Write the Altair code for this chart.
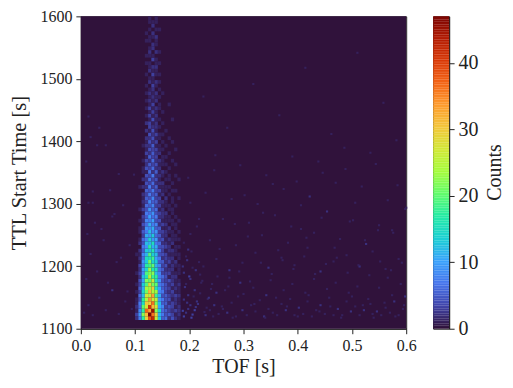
import altair as alt
import pandas as pd

tof_edges = [0.100,0.106,0.112,0.118,0.124,0.130,0.136,0.142,0.148,0.154,0.160,0.166,0.172,0.178,0.184]
ttl_start = 1114
ttl_step = 6
plume_rows = [
[2,7,17,29,38,42,26,13,5,6,2,4,2,1],
[3,9,22,31,47,36,29,11,7,4,5,3,1,2],
[1,8,17,37,33,45,22,14,6,5,3,2,3,2],
[2,6,20,27,41,31,27,10,8,3,4,3,1,2],
[1,7,15,30,29,36,21,12,5,5,2,3,2,1],
[1,4,17,24,34,27,25,9,7,4,4,1,2,1],
[0,6,12,27,25,33,18,11,4,5,3,2,3,2],
[1,3,14,21,31,24,23,8,7,3,2,3,1,1],
[0,5,11,24,23,29,16,10,5,4,3,1,2,1],
[1,3,13,19,28,21,20,7,6,4,2,3,1,2],
[0,4,10,22,20,26,15,9,4,3,4,2,1,1],
[0,2,12,16,25,18,17,7,6,4,1,2,2,0],
[1,3,8,19,21,22,12,8,3,3,3,1,1,1],
[0,2,10,14,23,16,15,6,5,2,2,2,0,1],
[0,3,7,17,18,20,11,8,3,4,1,2,1,1],
[0,1,9,13,21,14,13,5,5,2,3,1,2,0],
[0,2,6,15,15,18,10,7,2,3,2,2,0,1],
[1,1,8,11,19,13,12,4,4,3,1,1,1,1],
[0,2,5,13,12,16,9,6,3,1,2,2,1,0],
[0,0,7,9,17,11,11,4,4,3,2,0,1,1],
[0,2,4,12,11,15,7,6,2,2,1,2,0,0],
[0,1,6,8,14,9,10,3,4,1,2,1,1,1],
[0,0,3,11,9,13,6,5,2,2,0,1,1,0],
[0,1,5,7,12,8,9,3,3,2,1,1,0,1],
[0,1,2,9,8,11,5,5,1,1,2,0,1,0],
[0,0,4,6,11,7,8,2,3,2,0,1,1,0],
[0,1,2,8,7,10,4,4,1,1,1,1,0,1],
[0,0,3,5,10,6,7,2,2,1,1,0,1,0],
[0,0,1,7,6,9,4,3,2,2,0,1,0,0],
[0,1,3,4,9,5,6,1,2,0,1,1,0,0],
[0,0,1,6,5,8,3,3,1,1,1,0,1,0],
[0,0,2,3,8,5,5,2,2,1,0,1,0,0],
[0,0,1,5,4,8,3,3,0,2,0,1,0,1],
[0,0,2,3,7,4,5,1,2,0,1,0,0,0],
[0,0,0,5,4,7,3,3,1,1,0,1,1,0],
[0,1,2,2,7,3,5,1,1,1,1,0,0,0],
[0,0,0,4,3,6,2,2,2,0,0,1,0,0],
[0,0,2,2,6,3,4,1,0,1,1,0,0,1],
[0,0,0,4,3,7,2,2,1,0,1,0,1,0],
[0,0,1,1,6,2,5,1,2,1,0,0,0,0],
[0,0,1,4,3,6,2,2,0,0,1,0,0,0],
[0,0,0,2,5,3,4,1,1,1,0,0,1,0],
[0,0,1,3,2,6,2,2,1,0,0,1,0,0],
[0,0,0,1,5,3,3,0,1,1,0,0,0,0],
[0,0,0,3,2,5,2,2,0,0,1,0,0,0],
[0,0,0,1,4,3,3,1,1,0,0,0,1,0],
[0,0,1,2,2,5,1,1,0,1,0,0,0,0],
[0,0,0,1,4,2,3,0,1,0,0,1,0,0],
[0,0,0,2,2,4,1,1,0,0,1,0,0,0],
[0,0,0,0,4,2,3,1,1,0,0,0,0,0],
[0,0,0,2,1,4,1,0,0,1,0,0,0,0],
[0,0,0,0,3,2,2,1,0,0,0,0,0,0],
[0,0,0,2,3,1,2,0,1,0,0,0,0,0],
[0,0,0,0,1,4,1,1,0,0,0,1,0,0],
[0,0,0,1,3,1,2,0,0,0,0,0,0,0],
[0,0,0,0,1,3,1,0,1,0,0,0,0,0],
[0,0,0,1,3,1,2,1,0,0,0,0,0,0],
[0,0,0,0,1,3,0,1,0,0,1,0,0,0],
[0,0,0,1,2,1,2,0,0,0,0,0,0,0],
[0,0,0,0,1,2,1,1,0,0,0,0,0,0],
[0,0,0,1,2,1,2,0,1,0,0,0,0,0],
[0,0,0,0,1,2,0,1,0,0,0,0,0,0],
[0,0,0,1,0,3,1,0,0,0,0,0,0,0],
[0,0,0,0,2,1,2,1,0,0,0,0,0,0],
[0,0,0,0,1,1,0,0,0,0,0,0,0,0],
[0,0,0,1,0,3,1,1,0,0,0,0,0,0],
[0,0,0,0,2,1,1,0,0,0,0,0,0,0],
[0,0,0,0,1,2,2,0,0,0,0,0,0,0],
[0,0,0,1,1,0,1,1,0,0,0,0,0,0],
[0,0,0,0,0,3,1,0,0,0,0,0,0,0],
[0,0,0,1,1,1,0,0,0,0,0,0,0,0],
[0,0,0,0,2,0,2,1,0,0,0,0,0,0],
[0,0,0,0,1,2,0,0,0,0,0,0,0,0],
[0,0,0,0,0,2,1,0,0,0,0,0,0,0],
[0,0,0,1,1,0,1,0,0,0,0,0,0,0],
[0,0,0,0,1,1,2,0,0,0,0,0,0,0],
[0,0,0,1,0,2,0,0,0,0,0,0,0,0],
[0,0,0,0,1,0,1,1,0,0,0,0,0,0],
[0,0,0,0,0,2,0,0,0,0,0,0,0,0],
[0,0,0,0,1,1,1,0,0,0,0,0,0,0],
[0,0,0,0,1,0,1,0,0,0,0,0,0,0],
]

speck_tof = [
0.188,0.192,0.196,0.200,0.204,0.188,0.196,0.208,0.192,0.200,0.212,0.188,0.204,0.216,0.192,0.208,0.196,0.220,0.188,0.200,
0.228,0.236,0.244,0.252,0.232,0.248,0.260,0.268,0.276,0.284,0.240,0.264,0.288,0.296,0.304,0.312,0.272,0.292,0.320,0.328,
0.336,0.344,0.352,0.316,0.340,0.360,0.368,0.376,0.384,0.392,0.348,0.372,0.400,0.408,0.416,0.424,0.388,0.412,0.432,0.440,
0.448,0.456,0.464,0.428,0.452,0.472,0.480,0.488,0.496,0.504,0.468,0.492,0.512,0.520,0.528,0.536,0.508,0.532,0.544,0.552,
0.560,0.568,0.576,0.548,0.572,0.584,0.592,0.596,0.564,0.588,
0.224,0.248,0.272,0.296,0.320,0.344,0.368,0.392,0.416,0.440,0.464,0.488,0.512,0.536,0.560,0.584,0.236,0.284,0.332,0.380,
0.428,0.476,0.524,0.572,0.212,0.260,0.308,0.356,0.404,0.452,0.500,0.548,0.596,0.200,0.228,0.276,0.324,0.372,0.420,0.468,
0.516,0.564,0.196,0.244,0.292,0.340,0.388,0.436,0.484,0.532,0.580,0.268,0.364,0.460,0.556,0.316,0.412,0.508,0.224,0.504,
0.004,0.012,0.020,0.032,0.044,0.056,0.068,0.080,0.092,0.008,0.028,0.048,0.064,0.084,0.016,0.040,0.072,0.024,0.060,0.088,
0.012,0.036,0.052,0.076,0.096,0.008,0.044,0.068,0.020,0.056,0.016,0.032,0.028,0.012,0.020,0.010,
0.186,0.194,0.202,0.210,0.218,0.226,0.234,0.242,0.190,0.198,0.206,0.214,0.222,0.230,0.238,0.186,0.194,0.202,0.210,0.218,
0.258,0.278,0.298,0.318,0.338,0.358,0.378,0.398,0.418,0.438,0.458,0.478,0.498,0.518,0.538,0.558,0.578,0.594,0.250,0.270,
0.290,0.310,0.330,0.350,0.370,0.390,0.410,0.430,0.450,0.470,0.490,0.510,0.530,0.550,0.570,0.590,0.254,0.306,0.362,0.414,
0.466,0.522,0.574,0.282,0.334,0.386,0.442,0.494,0.546,0.598,0.300,0.396,0.486,0.582,0.216,0.352,0.444,0.542,0.246,0.404,
]
speck_ttl = [
1118,1124,1130,1136,1121,1145,1152,1160,1170,1178,1142,1188,1196,1205,1214,1128,1225,1172,1236,1250,
1120,1128,1136,1122,1146,1156,1130,1124,1140,1118,1170,1160,1150,1128,1120,1136,1180,1172,1126,1144,
1118,1130,1124,1164,1152,1120,1138,1128,1146,1120,1176,1160,1132,1122,1142,1118,1170,1156,1128,1136,
1122,1148,1120,1178,1162,1130,1120,1142,1126,1134,1172,1156,1120,1128,1146,1122,1166,1138,1126,1120,
1132,1124,1142,1164,1152,1120,1130,1150,1180,1170,
1198,1210,1192,1204,1220,1196,1212,1200,1228,1190,1206,1216,1198,1222,1194,1210,1240,1232,1248,1236,
1252,1242,1234,1256,1262,1274,1268,1280,1258,1286,1272,1264,1290,1300,1316,1306,1298,1322,1310,1332,
1326,1304,1340,1352,1360,1344,1374,1366,1388,1380,1400,1420,1440,1410,1460,1490,1516,1540,1470,1300,
1124,1136,1120,1148,1128,1160,1122,1142,1130,1178,1190,1172,1205,1158,1218,1240,1212,1268,1282,1232,
1300,1258,1320,1296,1345,1366,1392,1346,1318,1278,1405,1420,1392,1438,1300,1250,
1127,1140,1116,1133,1155,1125,1148,1118,1165,1182,1150,1138,1175,1132,1162,1198,1208,1222,1192,1185,
1134,1116,1154,1138,1116,1148,1134,1118,1152,1126,1134,1116,1150,1136,1116,1140,1118,1136,1182,1166,
1190,1174,1204,1186,1208,1194,1214,1186,1202,1212,1188,1200,1184,1206,1192,1204,1226,1246,1224,1244,
1228,1240,1252,1266,1284,1262,1276,1270,1256,1292,1312,1334,1354,1328,1274,1330,1348,1362,1376,1296,
]
speck_n = [
3,2,2,2,3,2,2,2,1,2,2,2,1,1,1,3,2,1,1,1,
2,1,2,1,1,2,1,2,1,1,1,1,1,2,1,1,1,2,1,1,
2,1,1,1,2,1,1,2,1,1,1,1,2,1,1,1,1,1,1,2,
1,1,1,1,1,2,1,1,2,1,1,1,1,2,1,1,1,1,2,1,
1,1,2,1,1,1,1,2,1,1,
1,1,2,1,1,2,1,1,1,2,1,1,2,1,1,1,1,1,1,1,
1,1,2,1,1,1,1,1,1,2,1,1,1,1,1,1,1,1,2,1,
1,1,1,1,1,1,1,1,1,1,1,1,1,1,1,1,1,1,1,1,
1,1,1,1,1,2,1,1,1,1,1,1,1,1,1,1,1,1,1,1,
1,1,1,1,1,1,1,1,1,1,1,1,1,1,1,1,
3,2,3,2,1,1,2,1,2,3,1,2,1,1,1,2,2,1,2,1,
1,1,1,1,1,1,1,1,1,1,1,1,1,1,1,1,1,1,1,1,
1,1,1,1,1,1,1,1,1,1,1,1,1,1,1,1,1,1,1,1,
1,1,1,1,1,1,1,1,1,1,1,1,1,1,1,1,1,1,1,1,
]
turbo_colors = ["#30123b","#4145ab","#4675ed","#39a2fc","#1bcfd4","#24eca6","#61fc6c","#a4fc3b",
                "#d1e834","#f3c63a","#fe9b2d","#f36315","#d93806","#b11901","#7a0402"]
count_max = 47.0
colorbar_ticks = [0, 10, 20, 30, 40]
colorbar_steps = [i * 0.25 for i in range(188)]

cells = []
for r, row in enumerate(plume_rows):
    for c, n in enumerate(row):
        if n > 0:
            cells.append(dict(x=tof_edges[c], x2=tof_edges[c + 1],
                              y=ttl_start + r * ttl_step, y2=ttl_start + (r + 1) * ttl_step, n=n))
for tx, ty, n in zip(speck_tof, speck_ttl, speck_n):
    cells.append(dict(x=tx, x2=tx + 0.004, y=ty, y2=ty + 3.34, n=n))
df = pd.DataFrame(cells)
bg = pd.DataFrame([dict(x=0.0, x2=0.6, y=1100, y2=1600, n=0)])

dom = [count_max * i / (len(turbo_colors) - 1) for i in range(len(turbo_colors))]
color_scale = alt.Scale(domain=dom, range=turbo_colors, interpolate="rgb")
FONT = "Liberation Serif"

xq = alt.X("x:Q", scale=alt.Scale(domain=[0, 0.6], nice=False, padding=0),
           axis=alt.Axis(title="TOF [s]", values=[0, .1, .2, .3, .4, .5, .6], format=".1f", grid=False,
                         labelFontSize=16, titleFontSize=20, labelFont=FONT, titleFont=FONT, titleFontWeight="normal",
                         tickColor="#222", domainColor="#222", labelColor="#222", titleColor="#222",
                         tickSize=5, labelPadding=4, titlePadding=3, labelFlush=False))
yq = alt.Y("y:Q", scale=alt.Scale(domain=[1100, 1600], nice=False, padding=0),
           axis=alt.Axis(title="TTL Start Time [s]", values=[1100, 1200, 1300, 1400, 1500, 1600], format="d", grid=False,
                         labelFontSize=16, titleFontSize=20.5, labelFont=FONT, titleFont=FONT, titleFontWeight="normal",
                         tickColor="#222", domainColor="#222", labelColor="#222", titleColor="#222",
                         tickSize=5, labelPadding=4, titlePadding=10, labelFlush=False))
col = alt.Color("n:Q", scale=color_scale, legend=None)

def layer(d):
    return alt.Chart(d).mark_rect(strokeWidth=0).encode(x=xq, x2="x2:Q", y=yq, y2="y2:Q", color=col)

main = alt.layer(layer(bg), layer(df)).properties(width=326, height=313)

cb = pd.DataFrame(dict(v=colorbar_steps, v2=[v + 0.27 for v in colorbar_steps], a=0.0, b=1.0))
colorbar = alt.Chart(cb).mark_rect(strokeWidth=0).encode(
    x=alt.X("a:Q", scale=alt.Scale(domain=[0, 1], padding=0), axis=None),
    x2="b:Q",
    y=alt.Y("v:Q", scale=alt.Scale(domain=[0, count_max], nice=False, padding=0),
            axis=alt.Axis(orient="right", title="Counts", values=colorbar_ticks, format="d", grid=False,
                          labelFontSize=20, titleFontSize=20, labelFont=FONT, titleFont=FONT, titleFontWeight="normal",
                          tickColor="#222", domainColor="#222", labelColor="#222", titleColor="#222",
                          tickSize=5, labelPadding=4, titleAngle=270, titleBaseline="middle", titleX=45, titleY=156,
                          labelFlush=False)),
    y2="v2:Q",
    color=alt.Color("v:Q", scale=color_scale, legend=None),
).properties(width=16, height=313)

chart = alt.hconcat(main, colorbar, spacing=15).resolve_scale(color="independent").properties(
    padding={"left": 1, "right": 0, "top": -1, "bottom": 0}, background="white"
).configure_view(stroke="#222", strokeWidth=1)

chart.save("out.html", embed_options={"renderer": "svg", "actions": False})
